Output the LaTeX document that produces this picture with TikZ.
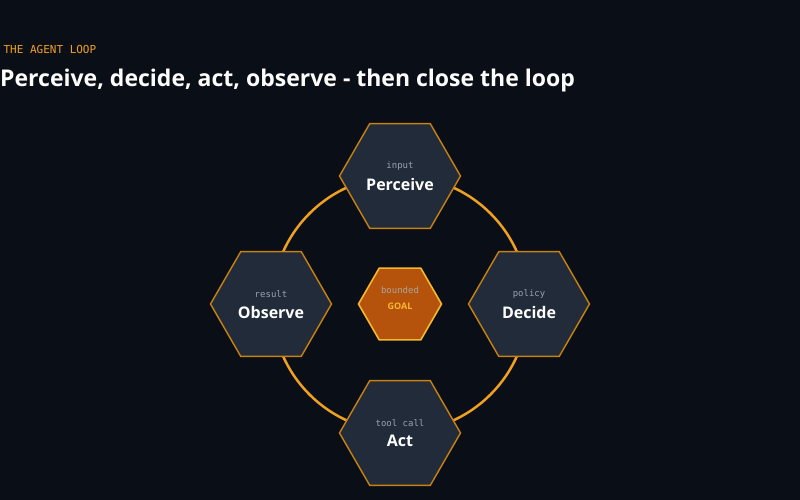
\documentclass[tikz,border=0pt]{standalone}
\usepackage{fontspec}
\setmainfont{Open Sans}
\setmonofont{DejaVu Sans Mono}
\usetikzlibrary{shapes.geometric}
\definecolor{bg}{HTML}{0A0E17}
\definecolor{ring}{HTML}{F0A020}
\definecolor{hexfill}{HTML}{222B3A}
\definecolor{hexdraw}{HTML}{C8820E}
\definecolor{goalfill}{HTML}{B5520C}
\definecolor{goaldraw}{HTML}{F5B82E}
\definecolor{subtxt}{HTML}{98A2B3}
\tikzset{
  hex/.style={regular polygon, regular polygon sides=6, minimum size=121pt, inner sep=0pt,
    fill=hexfill, draw=hexdraw, line width=1.4pt, text=white, align=center},
  goal/.style={regular polygon, regular polygon sides=6, minimum size=83pt, inner sep=0pt,
    fill=goalfill, draw=goaldraw, line width=1.6pt, align=center},
  ttl/.style={font=\fontsize{16}{18}\selectfont\bfseries},
  sub/.style={font=\ttfamily\fontsize{9}{11}\selectfont, text=subtxt},
}
\begin{document}
\begin{tikzpicture}[x=1pt,y=-1pt]
\fill[bg] (0,0) rectangle (800,500);
\useasboundingbox (0,0) rectangle (800,500);
\node[anchor=west, text=ring, font=\ttfamily\fontsize{11}{13}\selectfont] (kicker) at (0,49) {THE AGENT LOOP};
\node[anchor=west, text=white, font=\fontsize{23}{27}\selectfont\bfseries, inner sep=0pt] (title) at (0,81) {Perceive, decide, act, observe - then close the loop};
\draw[ring, line width=2.5pt] (400,304) circle (128);
\node[hex] (p) at (400,176) {};
\node[hex] (d) at (529,304) {};
\node[hex] (a) at (400,433) {};
\node[hex] (o) at (271,304) {};
\node[goal] (g) at (400,304) {};
\foreach \n/\t/\s in {p/Perceive/input, d/Decide/policy, a/Act/tool call, o/Observe/result}{
  \node[ttl, text=white] (\n t) at ([yshift=-8]\n.center) {\t};
  \node[sub] (\n s) at ([yshift=10]\n.center) {\s};
}
\node[text=goaldraw, font=\fontsize{9}{11}\selectfont\bfseries] (gt) at ([yshift=-2]g.center) {GOAL};
\node[sub, text=subtxt!80!goaldraw] (gs) at ([yshift=14]g.center) {bounded};
\end{tikzpicture}
\end{document}
